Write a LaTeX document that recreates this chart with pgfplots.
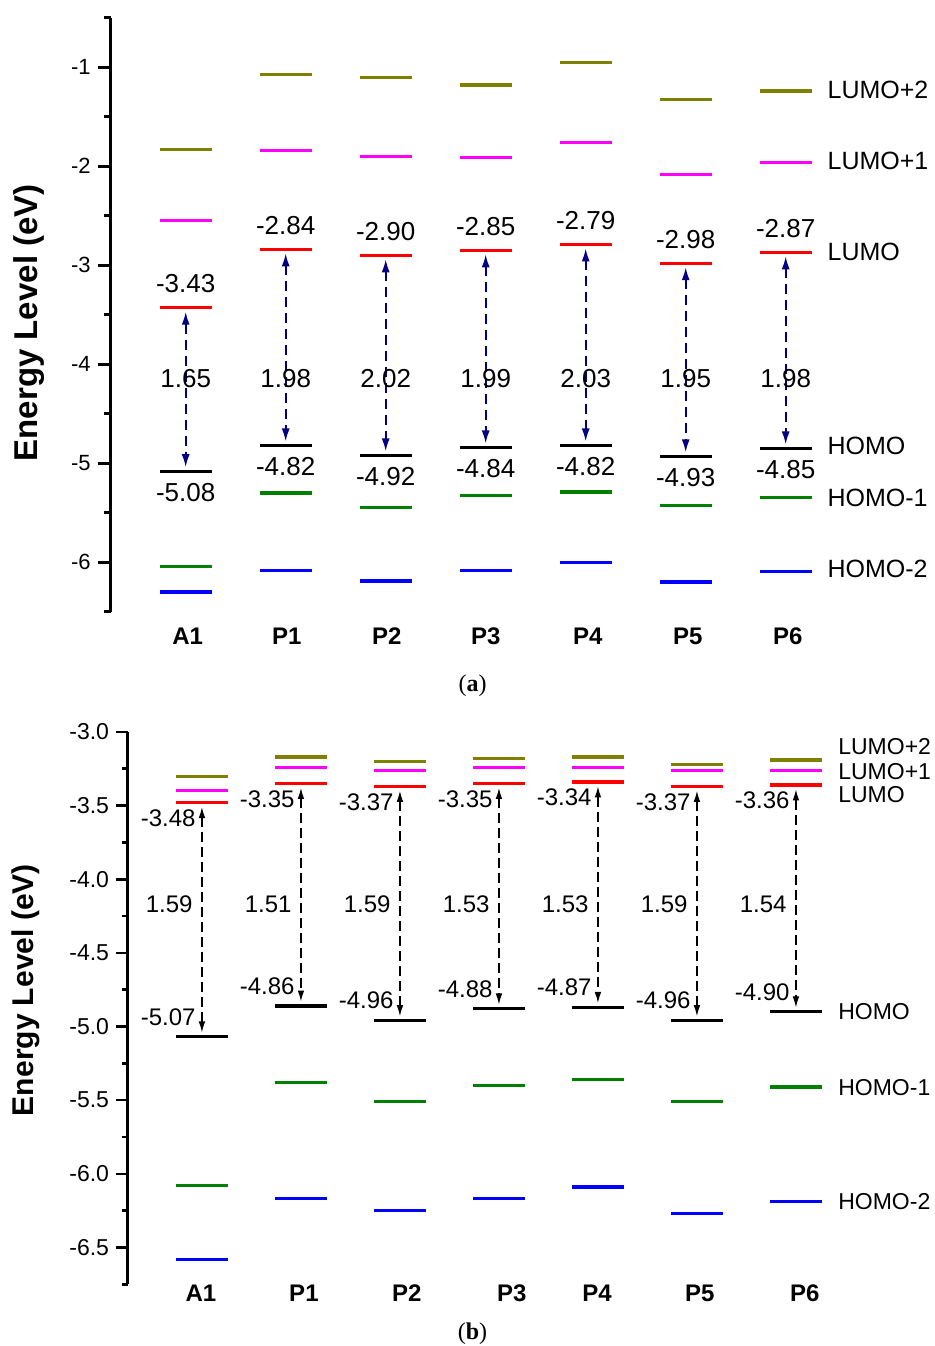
\documentclass[border=0pt]{standalone}
\usepackage{pgfplots}
\pgfplotsset{compat=1.18}
\usepackage{pgfplotstable}
\usetikzlibrary{arrows.meta}
\usepackage{fontspec}
\setmainfont{Liberation Sans}
\newfontfamily\seriffont{Liberation Serif}
\definecolor{olv}{RGB}{128,128,0}
\definecolor{mag}{RGB}{255,0,255}
\definecolor{grn}{RGB}{0,128,0}
\definecolor{nvy}{RGB}{0,0,128}
\definecolor{blu}{RGB}{0,0,255}
\definecolor{rd}{RGB}{255,0,0}

% panel (a)
\pgfplotstableread{
x L2 L1 L H H1 H2 gap gy
0 -1.83 -2.55 -3.43 -5.08 -6.04 -6.30 1.65 -4.14
1 -1.07 -1.84 -2.84 -4.82 -5.30 -6.08 1.98 -4.14
2 -1.10 -1.90 -2.90 -4.92 -5.45 -6.19 2.02 -4.14
3 -1.18 -1.91 -2.85 -4.84 -5.33 -6.08 1.99 -4.14
4 -0.95 -1.76 -2.79 -4.82 -5.29 -6.00 2.03 -4.14
5 -1.33 -2.08 -2.98 -4.93 -5.43 -6.20 1.95 -4.14
6 -1.24 -1.96 -2.87 -4.85 -5.35 -6.09 1.98 -4.14
}\tabA

% panel (b)
\pgfplotstableread{
x L2 L1 L H H1 H2 gap gy
0 -3.30 -3.40 -3.48 -5.07 -6.08 -6.58 1.59 -4.17
1 -3.17 -3.24 -3.35 -4.86 -5.38 -6.17 1.51 -4.17
2 -3.20 -3.26 -3.37 -4.96 -5.51 -6.25 1.59 -4.17
3 -3.18 -3.24 -3.35 -4.88 -5.40 -6.17 1.53 -4.17
4 -3.17 -3.24 -3.34 -4.87 -5.36 -6.09 1.53 -4.17
5 -3.22 -3.26 -3.37 -4.96 -5.51 -6.27 1.59 -4.17
6 -3.19 -3.26 -3.36 -4.90 -5.41 -6.19 1.54 -4.17
}\tabB

\pgfplotsset{
  lvl/.style={only marks, mark=-, mark size=13pt, mark options={line width=1.6pt, solid, #1}},
  lab/.style={draw=none, mark=none, nodes near coords, point meta=explicit symbolic,
     nodes near coords style={inner sep=0pt, #1}},
}

\begin{document}
\begin{tikzpicture}
\path[use as bounding box] (0,0) rectangle (467.5pt,-673pt);

% ---------------- panel (a)
\begin{axis}[
  at={(55.35pt,-305.85pt)}, anchor=south west,
  x=50pt, y=49.5pt,
  xmin=-0.75, xmax=7.5, ymin=-6.5, ymax=-0.5,
  clip=false,
  axis y line=left, axis x line=bottom,
  y axis line style={-, line width=1.3pt},
  x axis line style={draw=none},
  xtick={0.02,1.01,2.01,3,4.02,5.02,6.02},
  xticklabels={A1,P1,P2,P3,P4,P5,P6},
  x tick style={draw=none},
  xticklabel style={font=\bfseries\fontsize{12}{14}\selectfont, yshift=2pt},
  ytick={-6,-5,-4,-3,-2,-1},
  minor ytick={-6.5,-5.5,-4.5,-3.5,-2.5,-1.5,-0.5},
  y tick style={line width=1.3pt, black},
  tick align=outside,
  major tick length=6.5pt, minor tick length=3.5pt,
  yticklabel style={font=\fontsize{11}{13}\selectfont},
  /pgf/number format/assume math mode=true,
  every axis y label/.style={at={(axis description cs:0,0.5)}, xshift=-41pt, yshift=-4pt, rotate=90, anchor=center, font=\bfseries\fontsize{16.5}{19}\selectfont},
  ylabel={Energy Level (eV)},
]
\addplot[lvl=olv] table[x=x,y=L2] {\tabA};
\addplot[lvl=mag] table[x=x,y=L1] {\tabA};
\addplot[lvl=rd] table[x=x,y=L] {\tabA};
\addplot[lvl=black] table[x=x,y=H] {\tabA};
\addplot[lvl=grn] table[x=x,y=H1] {\tabA};
\addplot[lvl=blu] table[x=x,y=H2] {\tabA};
\addplot[nvy, line width=0.9pt, dash pattern=on 5pt off 3pt,
  {Latex[length=6.5pt,width=4pt]}-{Latex[length=6.5pt,width=4pt]},
  quiver={u=0, v=\thisrow{H}-\thisrow{L}+0.08}]
  table[x=x, y expr=\thisrow{L}-0.04] {\tabA};
\addplot[lab={anchor=center, yshift=12pt, font=\fontsize{13}{15}\selectfont}] table[x=x,y=L,meta=L] {\tabA};
\addplot[lab={anchor=center, yshift=-10.75pt, font=\fontsize{13}{15}\selectfont}] table[x=x,y=H,meta=H] {\tabA};
\addplot[lab={anchor=center, font=\fontsize{13}{15}\selectfont}] table[x=x,y=gy,meta=gap] {\tabA};
\begin{scope}[every node/.style={anchor=west, inner sep=0pt, font=\fontsize{12.5}{14}\selectfont}]
\node at (axis cs:6.415,-1.232) {LUMO+2};
\node at (axis cs:6.415,-1.949) {LUMO+1};
\node at (axis cs:6.415,-2.869) {LUMO};
\node at (axis cs:6.415,-4.828) {HOMO};
\node at (axis cs:6.415,-5.354) {HOMO-1};
\node at (axis cs:6.415,-6.068) {HOMO-2};
\end{scope}
\end{axis}

% ---------------- panel (b)
\begin{axis}[
  at={(63.85pt,-642.15pt)}, anchor=south west,
  x=49.5pt, y=73.65pt,
  xmin=-0.75, xmax=7.5, ymin=-6.75, ymax=-3.0,
  clip=false,
  axis y line=left, axis x line=bottom,
  y axis line style={-, line width=1.3pt},
  x axis line style={draw=none},
  xtick={-0.01,1.03,2.07,3.13,3.99,5.03,6.09},
  xticklabels={\raisebox{1.5pt}{A1},P1,P2,P3,\raisebox{1pt}{P4},P5,\raisebox{1.5pt}{P6}},
  x tick style={draw=none},
  xticklabel style={font=\bfseries\fontsize{12}{14}\selectfont, yshift=9pt},
  ytick={-6.5,-6,-5.5,-5,-4.5,-4,-3.5,-3},
  minor ytick={-6.75,-6.25,-5.75,-5.25,-4.75,-4.25,-3.75,-3.25},
  y tick style={line width=1.3pt, black},
  tick align=outside,
  major tick length=5.8pt, minor tick length=3pt,
  yticklabel style={font=\fontsize{11.5}{13}\selectfont, /pgf/number format/.cd, fixed, fixed zerofill, precision=1},
  /pgf/number format/assume math mode=true,
  every axis y label/.style={at={(axis description cs:0,0.5)}, xshift=-51pt, yshift=9pt, rotate=90, anchor=center, font=\bfseries\fontsize{15}{17}\selectfont},
  ylabel={Energy Level (eV)},
]
\addplot[lvl=olv] table[x=x,y=L2] {\tabB};
\addplot[lvl=mag] table[x=x,y=L1] {\tabB};
\addplot[lvl=rd] table[x=x,y=L] {\tabB};
\addplot[lvl=black] table[x=x,y=H] {\tabB};
\addplot[lvl=grn] table[x=x,y=H1] {\tabB};
\addplot[lvl=blu] table[x=x,y=H2] {\tabB};
\addplot[black, line width=0.6pt, dash pattern=on 5pt off 2.5pt,
  {Latex[length=5.5pt,width=3.3pt]}-{Latex[length=5.5pt,width=3.3pt]},
  quiver={u=0, v=\thisrow{H}-\thisrow{L}+0.06}]
  table[x=x, y expr=\thisrow{L}-0.03] {\tabB};
\addplot[lab={anchor=east, xshift=-3pt, yshift=-7.75pt, font=\fontsize{12}{14}\selectfont}] table[x=x,y=L,meta=L] {\tabB};
\addplot[lab={anchor=east, xshift=-3pt, yshift=10pt, font=\fontsize{12}{14}\selectfont}] table[x=x,y=H,meta=H] {\tabB};
\addplot[lab={anchor=east, xshift=-4.5pt, font=\fontsize{12}{14}\selectfont}] table[x=x,y=gy,meta=gap] {\tabB};
\begin{scope}[every node/.style={anchor=west, inner sep=0pt, font=\fontsize{11.5}{13}\selectfont}]
\node at (axis cs:6.424,-3.097) {LUMO+2};
\node at (axis cs:6.424,-3.272) {LUMO+1};
\node at (axis cs:6.424,-3.425) {LUMO};
\node at (axis cs:6.424,-4.896) {HOMO};
\node at (axis cs:6.424,-5.412) {HOMO-1};
\node at (axis cs:6.424,-6.186) {HOMO-2};
\end{scope}
\end{axis}

\node[font=\seriffont\fontsize{12}{14}\selectfont] at (236.25pt,-343pt) {(\textbf{a})};
\node[font=\seriffont\fontsize{12}{14}\selectfont] at (236.25pt,-667pt) {(\textbf{b})};
\end{tikzpicture}
\end{document}
